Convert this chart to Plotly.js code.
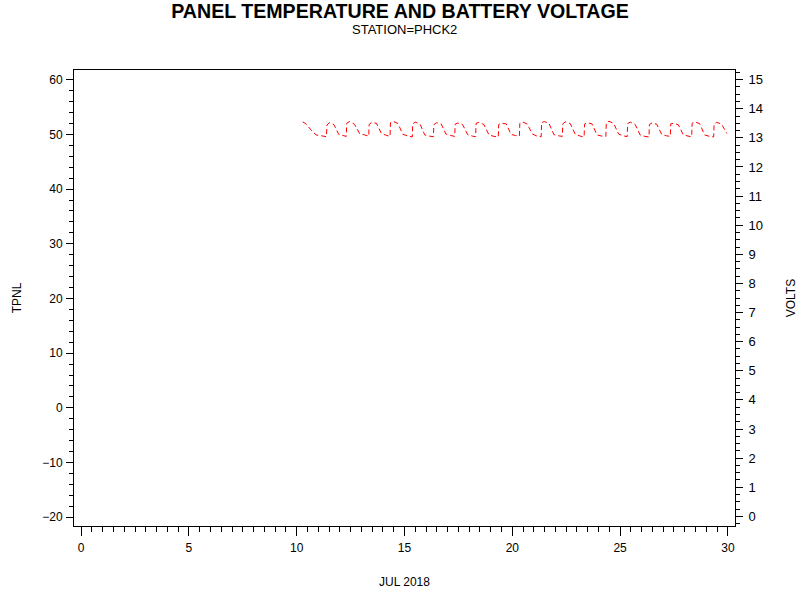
<!DOCTYPE html>
<html>
<head>
<meta charset="utf-8">
<script src="https://cdn.plot.ly/plotly-3.0.1.min.js"></script>
<style>
  body { margin: 0; background: #fff; }
  #chart { width: 800px; height: 600px; }
</style>
</head>
<body>
<div id="chart"></div>
<script>
// day of July 2018 (fractional) and battery volts
var voltDay = [
    10.28, 10.45, 10.65, 10.90, 11.15,
    11.38, 11.40, 11.52, 11.72, 11.95, 12.15,
    12.30, 12.32, 12.45, 12.68, 12.92, 13.15,
    13.34, 13.36, 13.48, 13.70, 13.93, 14.15,
    14.33, 14.35, 14.47, 14.70, 14.92, 15.15,
    15.36, 15.38, 15.50, 15.72, 15.94, 16.15,
    16.34, 16.36, 16.48, 16.70, 16.92, 17.15,
    17.33, 17.35, 17.47, 17.70, 17.93, 18.15,
    18.30, 18.32, 18.45, 18.68, 18.92, 19.15,
    19.35, 19.37, 19.50, 19.72, 19.94, 20.15,
    20.33, 20.35, 20.47, 20.70, 20.93, 21.15,
    21.34, 21.36, 21.48, 21.70, 21.93, 22.15,
    22.32, 22.34, 22.46, 22.69, 22.92, 23.15,
    23.33, 23.35, 23.47, 23.70, 23.93, 24.15,
    24.34, 24.36, 24.48, 24.70, 24.93, 25.15,
    25.33, 25.35, 25.47, 25.70, 25.93, 26.15,
    26.34, 26.36, 26.48, 26.70, 26.93, 27.15,
    27.33, 27.35, 27.47, 27.70, 27.93, 28.15,
    28.32, 28.34, 28.46, 28.69, 28.92, 29.15,
    29.34, 29.36, 29.48, 29.70, 29.95
];
var volts = [
    13.55, 13.47, 13.28, 13.10, 13.07,
    13.04, 13.44, 13.52, 13.46, 13.12, 13.08,
    13.05, 13.50, 13.56, 13.47, 13.14, 13.10,
    13.06, 13.46, 13.53, 13.50, 13.15, 13.09,
    13.05, 13.52, 13.57, 13.49, 13.12, 13.07,
    13.03, 13.48, 13.54, 13.47, 13.10, 13.06,
    13.04, 13.45, 13.52, 13.48, 13.13, 13.08,
    13.05, 13.47, 13.51, 13.45, 13.11, 13.06,
    13.04, 13.50, 13.53, 13.46, 13.10, 13.05,
    13.03, 13.46, 13.50, 13.48, 13.12, 13.08,
    13.06, 13.50, 13.55, 13.47, 13.13, 13.06,
    13.04, 13.52, 13.56, 13.50, 13.11, 13.07,
    13.05, 13.48, 13.55, 13.49, 13.12, 13.06,
    13.03, 13.47, 13.52, 13.48, 13.10, 13.06,
    13.05, 13.52, 13.57, 13.50, 13.13, 13.07,
    13.04, 13.49, 13.54, 13.46, 13.10, 13.05,
    13.03, 13.46, 13.51, 13.47, 13.12, 13.07,
    13.05, 13.48, 13.50, 13.45, 13.11, 13.06,
    13.04, 13.50, 13.55, 13.49, 13.10, 13.05,
    13.03, 13.47, 13.53, 13.48, 13.15
];
// panel temperature has no values in this period
var tpnlDay = [];
var tpnl = [];

var xTicks = [0, 5, 10, 15, 20, 25, 30];
var leftTicks = [-20, -10, 0, 10, 20, 30, 40, 50, 60];
var rightTicks = [0, 1, 2, 3, 4, 5, 6, 7, 8, 9, 10, 11, 12, 13, 14, 15];

var data = [
    {
        x: tpnlDay, y: tpnl,
        type: 'scatter', mode: 'lines',
        line: {color: 'black', width: 1},
        yaxis: 'y',
        showlegend: false
    },
    {
        x: voltDay, y: volts,
        type: 'scatter', mode: 'lines',
        line: {color: '#ff0000', width: 1, dash: '5px,3px'},
        yaxis: 'y2',
        showlegend: false
    }
];

var font = 'Liberation Sans, Arial, sans-serif';

var layout = {
    width: 800, height: 600,
    paper_bgcolor: 'white', plot_bgcolor: 'white',
    font: {family: font, color: 'black', size: 12},
    margin: {l: 74, r: 65, t: 70, b: 74},
    title: {
        text: 'PANEL TEMPERATURE AND BATTERY VOLTAGE',
        font: {family: font, size: 19.6, weight: 'bold', color: 'black'},
        x: 0.5, xanchor: 'center',
        y: 1 - 11 / 600, yanchor: 'middle'
    },
    annotations: [{
        text: 'STATION=PHCK2',
        xref: 'paper', yref: 'paper',
        x: 0.5, y: 1 + (70 - 30) / 456,
        xanchor: 'center', yanchor: 'middle',
        showarrow: false,
        font: {family: font, size: 13, color: 'black'}
    }],
    xaxis: {
        range: [-0.33, 30.33],
        tickvals: xTicks,
        ticks: 'outside', ticklen: 9, tickwidth: 1, tickcolor: 'black',
        minor: {dtick: 0.5, ticks: 'outside', ticklen: 5, tickcolor: 'black', showgrid: false},
        showgrid: false, zeroline: false,
        showline: true, linecolor: 'black', linewidth: 1, mirror: true,
        tickfont: {size: 12},
        ticklabelstandoff: 2,
        title: {text: 'JUL 2018', font: {size: 12}, standoff: 23}
    },
    yaxis: {
        range: [-21.6, 61.77],
        tickvals: leftTicks,
        ticks: 'outside', ticklen: 7, tickwidth: 1, tickcolor: 'black',
        minor: {dtick: 2, ticks: 'outside', ticklen: 4, tickcolor: 'black', showgrid: false},
        showgrid: false, zeroline: false,
        showline: true, linecolor: 'black', linewidth: 1,
        tickfont: {size: 12},
        ticklabelstandoff: 1,
        title: {text: 'TPNL', font: {size: 12}, standoff: 18}
    },
    yaxis2: {
        range: [-0.33, 15.33],
        overlaying: 'y', side: 'right',
        tickvals: rightTicks,
        ticks: 'outside', ticklen: 7, tickwidth: 1, tickcolor: 'black',
        minor: {dtick: 0.25, ticks: 'outside', ticklen: 4, tickcolor: 'black', showgrid: false},
        showgrid: false, zeroline: false,
        showline: true, linecolor: 'black', linewidth: 1,
        tickfont: {size: 13},
        ticklabelstandoff: 3,
        title: {text: 'VOLTS', font: {size: 12}, standoff: 24}
    }
};

Plotly.newPlot('chart', data, layout, {staticPlot: true, displayModeBar: false});
</script>
</body>
</html>
